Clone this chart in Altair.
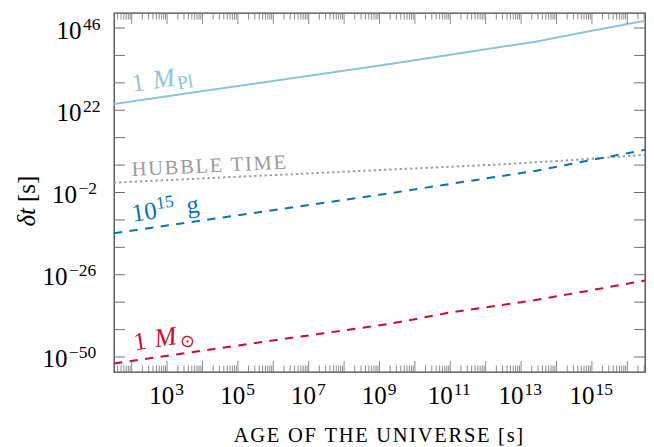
import altair as alt
import pandas as pd

# ---------------- data (log10 values) ----------------
age_exp = [1.5, 5.0, 9.3, 11.0, 13.4, 15.0, 16.5]          # log10(age / s)
planck_exp = [23.8, 29.05, 35.5, 38.2, 42.0, 45.2, 48.15]   # 1 M_Pl
g15_exp = [-13.9, -8.65, -2.2, 0.5, 4.3, 7.5, 10.45]        # 10^15 g
sun_exp = [-51.9, -46.65, -40.3, -37.0, -33.4, -30.5, -27.7]  # 1 M_sun

hubble_age_exp = [1.5, 5.0, 9.0, 12.5, 14.5, 16.5]
hubble_exp = [0.86, 2.6, 4.55, 6.24, 7.5, 9.0]

x_label_exps = [3, 5, 7, 9, 11, 13, 15]
y_label_exps = [46, 22, -2, -26, -50]
y_tick_exps = [-50, -42, -34, -26, -18, -10, -2, 6, 14, 22, 30, 38, 46]
x_major_exps = list(range(2, 17))
x_minor_mult = [2, 3, 4, 5, 6, 7, 8, 9]

X_DOM_EXP = (1.5, 16.5)
Y_DOM_EXP = (-54.38, 50.38)

x_title = "AGE OF THE UNIVERSE [s]"
hubble_label = "HUBBLE TIME"

# ---------------- style ----------------
FONT = "'Liberation Serif', 'Times New Roman', serif"
W, H = 531, 359
C_PL = "#8cc4de"
C_HUB = "#9b9b9b"
C_G15 = "#0b72b5"
C_SUN = "#cf0a2c"
TICK = "#707070"


def spaced(s):
    # small-caps look: slight letter spacing with hair spaces
    return "\u200a".join(s)


xs = alt.Scale(type="log", domain=[10 ** X_DOM_EXP[0], 10 ** X_DOM_EXP[1]], nice=False)
ys = alt.Scale(type="log", domain=[10 ** Y_DOM_EXP[0], 10 ** Y_DOM_EXP[1]], nice=False)
X = lambda: alt.X("t:Q", scale=xs, axis=None)
Y = lambda: alt.Y("v:Q", scale=ys, axis=None)

layers = []


def line(xe, ye, color, dash=None, width=2.0):
    df = pd.DataFrame({"t": [10.0 ** a for a in xe], "v": [10.0 ** b for b in ye]})
    kw = dict(color=color, strokeWidth=width, clip=True)
    if dash:
        kw["strokeDash"] = dash
    return alt.Chart(df).mark_line(**kw).encode(x=X(), y=Y())


layers.append(line(age_exp, planck_exp, C_PL))
layers.append(line(hubble_age_exp, hubble_exp, C_HUB, dash=[2.2, 3.0]))
layers.append(line(age_exp, g15_exp, C_G15, dash=[8.3, 7.4]))
layers.append(line(age_exp, sun_exp, C_SUN, dash=[8.3, 7.4]))

# ---------------- ticks (inside the frame) ----------------
xmaj = pd.DataFrame({"t": [10.0 ** k for k in x_major_exps]})
lo, hi = 10 ** X_DOM_EXP[0], 10 ** X_DOM_EXP[1]
xmin = pd.DataFrame({"t": [m * 10.0 ** k for k in range(1, 17) for m in x_minor_mult
                           if lo <= m * 10.0 ** k <= hi]})
for df, ln in ((xmaj, 11), (xmin, 6.5)):
    layers.append(alt.Chart(df).mark_rule(color=TICK, strokeWidth=0.8).encode(
        x=X(), y=alt.value(H), y2=alt.value(H - ln)))
    layers.append(alt.Chart(df).mark_rule(color=TICK, strokeWidth=0.8).encode(
        x=X(), y=alt.value(0), y2=alt.value(ln)))
ytk = pd.DataFrame({"v": [10.0 ** k for k in y_tick_exps]})
layers.append(alt.Chart(ytk).mark_rule(color=TICK, strokeWidth=1).encode(
    y=Y(), x=alt.value(0), x2=alt.value(11)))
layers.append(alt.Chart(ytk).mark_rule(color=TICK, strokeWidth=1).encode(
    y=Y(), x=alt.value(W - 11), x2=alt.value(W)))

# ---------------- tick labels ----------------
BASE_FS, EXP_FS = 25, 17.5


def sup_text(e):
    return str(e).replace("-", "\u2212")


def cm_width(s):
    return sum(14.0 if ch == "\u2212" else 9.5 for ch in s)


for e in x_label_exps:
    s = sup_text(e)
    ew = cm_width(s)
    total = 25 + 1 + ew
    df = pd.DataFrame({"t": [10.0 ** e], "b": ["10"], "s": [s]})
    layers.append(alt.Chart(df).mark_text(align="left", baseline="alphabetic", dx=-total / 2,
                                          font=FONT, fontSize=BASE_FS, color="black").encode(
        x=X(), y=alt.value(H + 32), text="b:N"))
    layers.append(alt.Chart(df).mark_text(align="left", baseline="alphabetic", dx=-total / 2 + 26,
                                          font=FONT, fontSize=EXP_FS, color="black").encode(
        x=X(), y=alt.value(H + 23), text="s:N"))

for e in y_label_exps:
    s = sup_text(e)
    ew = cm_width(s)
    df = pd.DataFrame({"v": [10.0 ** e], "b": ["10"], "s": [s]})
    layers.append(alt.Chart(df).mark_text(align="right", baseline="alphabetic", dy=10.5,
                                          font=FONT, fontSize=BASE_FS, color="black").encode(
        y=Y(), x=alt.value(-12 - ew - 1.5), text="b:N"))
    layers.append(alt.Chart(df).mark_text(align="left", baseline="alphabetic", dy=1.5,
                                          font=FONT, fontSize=EXP_FS, color="black").encode(
        y=Y(), x=alt.value(-12 - ew), text="s:N"))

# ---------------- axis titles ----------------
tdf = pd.DataFrame({"a": [spaced(x_title)]})
layers.append(alt.Chart(tdf).mark_text(align="center", baseline="alphabetic", font=FONT,
                                       fontSize=20.5, color="black").encode(
    x=alt.value(W / 2 - 1), y=alt.value(H + 70), text="a:N"))
ydf = pd.DataFrame({"a": ["\u03b4t"], "b": ["[s]"]})
layers.append(alt.Chart(ydf).mark_text(align="right", baseline="alphabetic", angle=270, font=FONT,
                                       fontSize=25, fontStyle="italic", color="black").encode(
    x=alt.value(-79), y=alt.value(195), text="a:N"))
layers.append(alt.Chart(ydf).mark_text(align="left", baseline="alphabetic", angle=270, font=FONT,
                                       fontSize=25, dx=6, color="black").encode(
    x=alt.value(-79), y=alt.value(195), text="b:N"))


# ---------------- curve labels ----------------
def piece(text, anchor, dx, dy, size, color, angle, style="normal"):
    df = pd.DataFrame({"t": [10.0 ** anchor[0]], "v": [10.0 ** anchor[1]], "s": [text]})
    return alt.Chart(df).mark_text(align="left", baseline="alphabetic", dx=dx, dy=dy, angle=angle,
                                   font=FONT, fontSize=size, fontStyle=style, color=color).encode(
        x=X(), y=Y(), text="s:N")


A_BH = 351.6
A_HUB = 357.3
pl_anchor = (2.04, 27.38)
hub_anchor = (2.01, 2.82)
g15_anchor = (2.04, -10.54)
sun_anchor = (2.09, -48.04)

layers += [
    piece("1", pl_anchor, 0, 0, 25, C_PL, A_BH),
    piece("M", pl_anchor, 21, 0, 26.5, C_PL, A_BH, "italic"),
    piece("Pl", pl_anchor, 45, 4, 19, C_PL, A_BH),
    piece(spaced(hubble_label), hub_anchor, 0, 0, 20.5, C_HUB, A_HUB),
    piece("10", g15_anchor, 0, 0, 25, C_G15, A_BH),
    piece("15", g15_anchor, 25.5, -9, 17.5, C_G15, A_BH),
    piece("g", g15_anchor, 55, 0, 25, C_G15, A_BH),
    piece("1", sun_anchor, 0, 0, 25, C_SUN, A_BH),
    piece("M", sun_anchor, 21, 0, 26.5, C_SUN, A_BH, "italic"),
    piece("\u2299", sun_anchor, 46, 4, 17.5, C_SUN, A_BH),
]

chart = alt.layer(*layers).properties(
    width=W, height=H,
    padding={"left": 114, "top": 13, "right": 9, "bottom": 75},
    autosize=alt.AutoSizeParams(type="none"),
    background="white",
).configure_view(stroke="#444444", strokeWidth=1.3)

chart.save("out.html", embed_options={"renderer": "svg", "actions": False})
